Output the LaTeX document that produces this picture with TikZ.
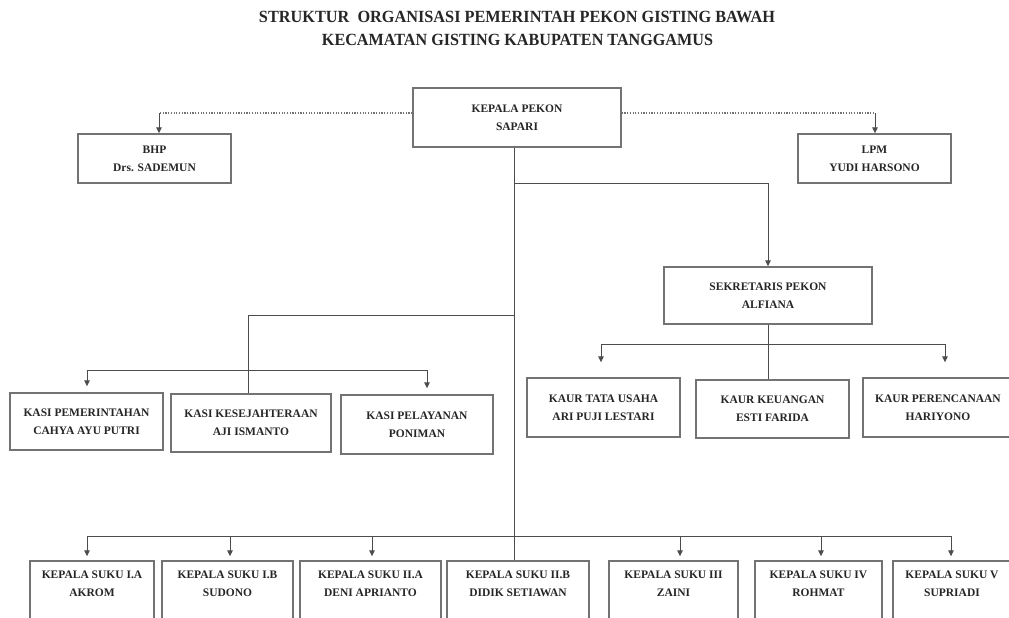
\documentclass[tikz,border=0pt]{standalone}
\usepackage{graphicx}
\usepackage{fontspec}
\setmainfont{Liberation Serif}
\usetikzlibrary{arrows.meta,calc}
\begin{document}
\begin{tikzpicture}[x=1pt,y=-1pt,
  box/.style={draw=black!55,line width=1.4pt,fill=white,align=center,
    font=\fontsize{11.5}{18}\selectfont\bfseries,text=black!85,inner sep=0pt},
  ttl/.style={font=\bfseries,text=black!85,inner sep=0pt},
  con/.style={draw=black!70,line width=0.9pt},
  arr/.style={con,-{Triangle[length=6pt,width=5.5pt]}},
  dotl/.style={draw=black!55,line width=1.2pt,dash pattern=on 1.2pt off 1.5pt}]
\useasboundingbox (0,0) rectangle (1009,618);
\clip (0,0) rectangle (1009,618);
\fill[white] (0,0) rectangle (1009,618);

% title
\node[ttl] (t1) at (517,16.7) {\resizebox{516pt}{11.3pt}{STRUKTUR\ \ ORGANISASI PEMERINTAH PEKON GISTING BAWAH}};
\node[ttl] (t2) at (517.5,40) {\resizebox{391pt}{11.3pt}{KECAMATAN GISTING KABUPATEN TANGGAMUS}};

% top level
\node[box,minimum width=208pt,minimum height=59pt] (kp) at (517,117.5) {KEPALA PEKON\\SAPARI};
\node[box,minimum width=153pt,minimum height=49pt] (bhp) at (154.5,158.5) {BHP\\Drs. SADEMUN};
\node[box,minimum width=153pt,minimum height=49pt] (lpm) at (874.5,158.5) {LPM\\YUDI HARSONO};

% secretary and kaur
\node[box,minimum width=208pt,minimum height=57pt] (sek) at (768,295.5) {SEKRETARIS PEKON\\ALFIANA};
\node[box,minimum width=153pt,minimum height=59pt] (kaur1) at (603.5,407.5) {KAUR TATA USAHA\\ARI PUJI LESTARI};
\node[box,minimum width=153pt,minimum height=58pt] (kaur2) at (772.5,409) {KAUR KEUANGAN\\ESTI FARIDA};
\node[box,minimum width=150pt,minimum height=59pt] (kaur3) at (938,407.5) {KAUR PERENCANAAN\\HARIYONO};

% kasi
\node[box,minimum width=153pt,minimum height=57pt] (kasi1) at (86.5,421.5) {KASI PEMERINTAHAN\\CAHYA AYU PUTRI};
\node[box,minimum width=160pt,minimum height=58pt] (kasi2) at (251,423) {KASI KESEJAHTERAAN\\AJI ISMANTO};
\node[box,minimum width=152pt,minimum height=59pt] (kasi3) at (417,424.5) {KASI PELAYANAN\\PONIMAN};

% kepala suku
\node[box,minimum width=124pt,minimum height=64pt] (ks1) at (92,593) {KEPALA SUKU I.A\\AKROM\\~};
\node[box,minimum width=131pt,minimum height=64pt] (ks2) at (227.5,593) {KEPALA SUKU I.B\\SUDONO\\~};
\node[box,minimum width=141pt,minimum height=64pt] (ks3) at (370.5,593) {KEPALA SUKU II.A\\DENI APRIANTO\\~};
\node[box,minimum width=142pt,minimum height=64pt] (ks4) at (518,593) {KEPALA SUKU II.B\\DIDIK SETIAWAN\\~};
\node[box,minimum width=129pt,minimum height=64pt] (ks5) at (673.5,593) {KEPALA SUKU III\\ZAINI\\~};
\node[box,minimum width=127pt,minimum height=64pt] (ks6) at (818.5,593) {KEPALA SUKU IV\\ROHMAT\\~};
\node[box,minimum width=118pt,minimum height=64pt] (ks7) at (952,593) {KEPALA SUKU V\\SUPRIADI\\~};

% coordinates
\coordinate (tx) at (514,0);
\coordinate (jS) at (514,183);
\coordinate (jK) at (514,315);
\coordinate (cB) at (159,113);
\coordinate (cL) at (875,113);
\coordinate (cK1) at (601,344);
\coordinate (cK3) at (945,344);
\coordinate (cA1) at (87,370);
\coordinate (cA2) at (248,315);
\coordinate (cA3) at (427,370);
\coordinate (s1) at (87,536);
\coordinate (s2) at (230,536);
\coordinate (s3) at (372,536);
\coordinate (s5) at (680,536);
\coordinate (s6) at (821,536);
\coordinate (s7) at (951,536);

% dotted advisory links
\draw[dotl] ([yshift=4.5pt]kp.west) -- (cB);
\draw[arr] (cB) -- (cB |- bhp.north);
\draw[dotl] ([yshift=4.5pt]kp.east) -- (cL);
\draw[arr] (cL) -- (cL |- lpm.north);

% trunk
\draw[con] (kp.south -| tx) -- (ks4.north -| tx);

% to secretary
\draw[arr] (jS) -| (sek.north);
\draw[con] (sek.south) -- (sek.south |- kaur2.north);
\draw[con] (cK1) -- (cK3);
\draw[arr,shorten >=15pt] (cK1) -- (cK1 |- kaur1.north);
\draw[arr,shorten >=15pt] (cK3) -- (cK3 |- kaur3.north);

% kasi
\draw[con] (jK) -- (cA2) -- (cA2 |- kasi2.north);
\draw[con] (cA1) -- (cA3);
\draw[arr,shorten >=6pt] (cA1) -- (cA1 |- kasi1.north);
\draw[arr,shorten >=6pt] (cA3) -- (cA3 |- kasi3.north);

% kepala suku
\draw[con] (s1) -- (s7);
\draw[arr,shorten >=4pt] (s1) -- (s1 |- ks1.north);
\draw[arr,shorten >=4pt] (s2) -- (s2 |- ks2.north);
\draw[arr,shorten >=4pt] (s3) -- (s3 |- ks3.north);
\draw[arr,shorten >=4pt] (s5) -- (s5 |- ks5.north);
\draw[arr,shorten >=4pt] (s6) -- (s6 |- ks6.north);
\draw[arr,shorten >=4pt] (s7) -- (s7 |- ks7.north);
\end{tikzpicture}
\end{document}
